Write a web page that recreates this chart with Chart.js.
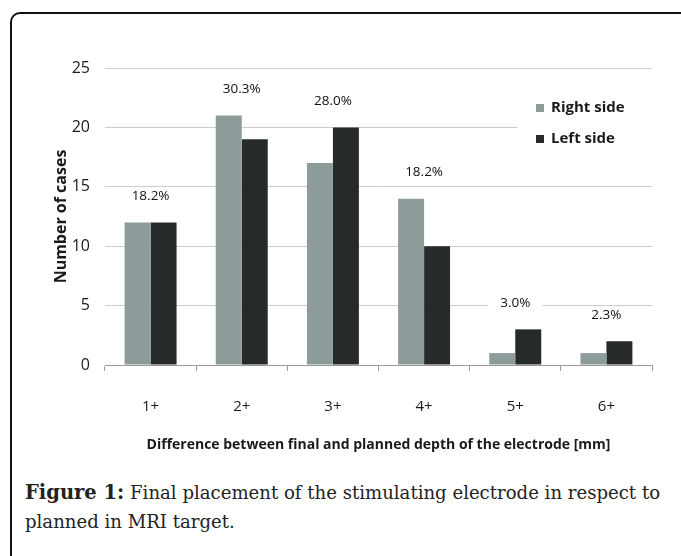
<!DOCTYPE html>
<html>
<head>
<meta charset="utf-8">
<script src="https://cdn.jsdelivr.net/npm/chart.js@4/dist/chart.umd.min.js"></script>
<style>
  html, body { margin: 0; padding: 0; background: #fff; }
  body { width: 681px; height: 556px; position: relative; overflow: hidden; }
  #frame {
    position: absolute; left: 10px; top: 12px; width: 700px; height: 600px;
    border: 2px solid #111; border-radius: 10px; box-sizing: border-box;
  }
  #wrap { position: absolute; left: 20px; top: 30px; width: 660px; height: 430px; }
  #caption {
    position: absolute; left: 25px; top: 478px; width: 650px;
    font-family: "DejaVu Serif", "Liberation Serif", serif; font-size: 18.1px;
    line-height: 29px; color: #222; white-space: nowrap;
  }
  #caption b { font-weight: bold; font-size: 19.5px; }
</style>
</head>
<body>
<div id="frame"></div>
<div id="wrap"><canvas id="chart0" width="660" height="430"></canvas></div>
<div id="caption"><b>Figure 1:</b> Final placement of the stimulating electrode in respect to<br>planned in MRI target.</div>
<script>
let ctx = document.getElementById("chart0").getContext("2d");

// data
const categories = ["1+", "2+", "3+", "4+", "5+", "6+"];
const rightSide = [12, 21, 17, 14, 1, 1];
const leftSide = [12, 19, 20, 10, 3, 2];
const percentLabels = ["18.2%", "30.3%", "28.0%", "18.2%", "3.0%", "2.3%"];
const yTicks = [0, 5, 10, 15, 20, 25];

const greyBar = "#8e9b9b";
const darkBar = "#262a2b";
const sans = "'Open Sans', Lato, sans-serif";

// white-boxed percentage above each pair
const percentPlugin = {
  id: "percentLabels",
  afterDatasetsDraw(chart) {
    let c = chart.ctx;
    let x = chart.scales.x, y = chart.scales.y;
    c.save();
    c.font = "13.5px " + sans;
    c.textAlign = "center";
    c.textBaseline = "middle";
    categories.forEach(function (cat, i) {
      let top = Math.max(rightSide[i], leftSide[i]);
      let px = x.getPixelForValue(i);
      let py = y.getPixelForValue(top + 2.2);
      let w = c.measureText(percentLabels[i]).width;
      c.fillStyle = "#fff";
      c.fillRect(px - w / 2 - 12, py - 9, w + 24, 18);
      c.fillStyle = "#111";
      c.fillText(percentLabels[i], px, py);
    });
    c.restore();
  }
};

// legend sitting inside the plot, top right
const legendPlugin = {
  id: "insideLegend",
  afterDatasetsDraw(chart) {
    let c = chart.ctx;
    let area = chart.chartArea;
    c.save();
    c.fillStyle = "#fff";
    c.fillRect(area.right - 135, 42, 160, 62);
    c.font = "bold 15px " + sans;
    c.textBaseline = "middle";
    c.textAlign = "left";
    chart.data.datasets.forEach(function (ds, i) {
      let ly = 78 + i * 31;
      c.fillStyle = ds.backgroundColor;
      c.fillRect(area.right - 116, ly - 4, 8, 8);
      c.fillStyle = "#1a1a1a";
      c.fillText(ds.label, area.right - 101, ly);
    });
    c.restore();
  }
};

let chart = new Chart(ctx, {
  type: "bar",
  data: {
    labels: categories,
    datasets: [
      { label: "Right side", data: rightSide, backgroundColor: greyBar },
      { label: "Left side", data: leftSide, backgroundColor: darkBar }
    ]
  },
  plugins: [percentPlugin, legendPlugin],
  options: {
    responsive: false,
    animation: false,
    categoryPercentage: 0.57,
    barPercentage: 1,
    layout: { padding: { left: 0, top: 38, right: 28, bottom: 0 } },
    plugins: {
      legend: { display: false },
      tooltip: { enabled: false }
    },
    scales: {
      x: {
        grid: {
          offset: true,
          drawOnChartArea: false,
          color: "#9a9a9a",
          tickLength: 6
        },
        border: { color: "#9a9a9a" },
        ticks: { color: "#1a1a1a", padding: 27, font: { family: sans, size: 15 } },
        title: {
          display: true,
          text: "Difference between final and planned depth of the electrode [mm]",
          color: "#1a1a1a",
          font: { family: sans, size: 14, weight: "bold" },
          padding: { top: 0, bottom: 7 }
        },
        afterFit: function (s) { s.height = 95; }
      },
      y: {
        min: 0,
        max: 25,
        afterBuildTicks: function (s) { s.ticks = yTicks.map(v => ({ value: v })); },
        grid: { color: "#c9cdcd", drawTicks: false },
        border: { display: false },
        ticks: { color: "#1a1a1a", padding: 15, font: { family: sans, size: 16 } },
        title: {
          display: true,
          text: "Number of cases",
          color: "#1a1a1a",
          font: { family: sans, size: 16, weight: "bold" },
          padding: { top: 32, bottom: 0 }
        },
        afterFit: function (s) { s.width = 85; }
      }
    }
  }
});
</script>
</body>
</html>
